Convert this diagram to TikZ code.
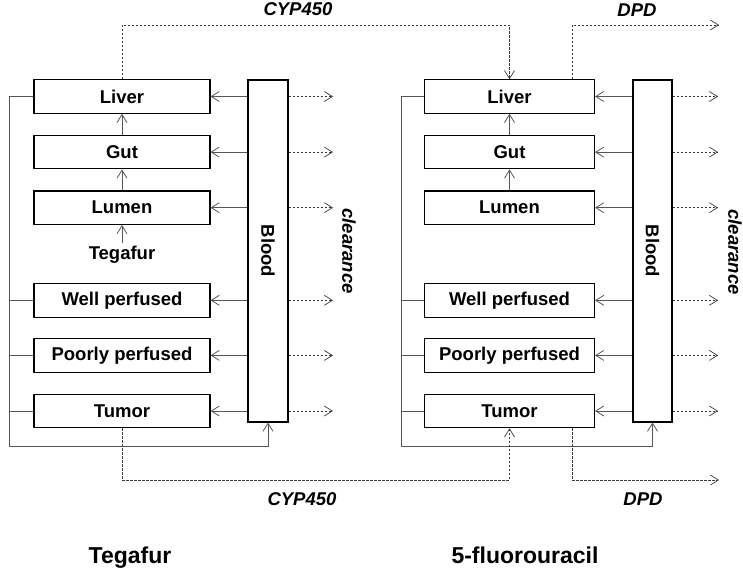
\documentclass[tikz,border=0pt]{standalone}
\usepackage{fontspec}
\usepackage{graphicx}
\setmainfont{Liberation Sans}
\usetikzlibrary{positioning,arrows.meta}
\definecolor{inkline}{HTML}{555555}
\definecolor{inkdash}{HTML}{3A3A3A}

\begin{document}
\begin{tikzpicture}[
  x=1pt, y=-1pt,
  node distance=21pt,
  organ/.style={draw, line width=1.1pt, minimum width=176pt, minimum height=33.5pt, inner sep=0pt, font=\bfseries\fontsize{18.5}{20}\selectfont},
  organF/.style={organ, minimum width=170pt},
  pool/.style={draw, line width=1.1pt, minimum width=40pt, minimum height=342pt, inner sep=0pt, font=\bfseries\fontsize{18.5}{20}\selectfont},
  note/.style={font=\bfseries\itshape\fontsize{18.5}{20}\selectfont, inner sep=0pt},
  title/.style={font=\bfseries\fontsize{23}{26}\selectfont, inner sep=0pt, anchor=base},
  flow/.style={-{Straight Barb[length=8pt,width=10pt]}, color=inkline, line width=0.8pt},
  link/.style={color=inkline, line width=0.8pt},
  metab/.style={-{Straight Barb[length=8pt,width=10pt]}, color=inkdash, line width=0.7pt, dash pattern=on 2.5pt off 1.5pt},
]
\useasboundingbox (0,0) rectangle (743,576);

% Tegafur compartments
\node[organ] (liverT) at (122,96.5) {Liver};
\node[organ, below=of liverT] (gutT) {Gut};
\node[organ, below=of gutT] (lumenT) {Lumen};
\node[organ, below=58pt of lumenT] (wellT) {Well perfused};
\node[organ, below=20.5pt of wellT] (poorT) {Poorly perfused};
\node[organ, below=of poorT] (tumorT) {Tumor};
\node[pool] (bloodT) at (268,251) {\rotatebox{-90}{Blood}};
\node[font=\bfseries\fontsize{18.5}{20}\selectfont, inner sep=2pt, anchor=base] (doseT) at (122,259) {Tegafur};
\coordinate (retT) at (9,446);
\coordinate (clrT) at (333,0);

% 5-fluorouracil compartments
\node[organF] (liverF) at (509.5,96.5) {Liver};
\node[organF, below=of liverF] (gutF) {Gut};
\node[organF, below=of gutF] (lumenF) {Lumen};
\node[organF, below=58pt of lumenF] (wellF) {Well perfused};
\node[organF, below=20.5pt of wellF] (poorF) {Poorly perfused};
\node[organF, below=of poorF] (tumorF) {Tumor};
\node[pool, minimum width=39pt] (bloodF) at (652.5,251) {\rotatebox{-90}{Blood}};
\coordinate (retF) at (401,446);
\coordinate (clrF) at (718,0);

% absorption
\draw[flow] (doseT) -- (lumenT);
\draw[flow] (lumenT) -- (gutT);
\draw[flow] (gutT) -- (liverT);
\draw[flow] (lumenF) -- (gutF);
\draw[flow] (gutF) -- (liverF);

% arterial supply
\draw[flow] (bloodT.west |- liverT) -- (liverT.east);
\draw[flow] (bloodT.west |- gutT) -- (gutT.east);
\draw[flow] (bloodT.west |- lumenT) -- (lumenT.east);
\draw[flow] (bloodT.west |- wellT) -- (wellT.east);
\draw[flow] (bloodT.west |- poorT) -- (poorT.east);
\draw[flow] (bloodT.west |- tumorT) -- (tumorT.east);
\draw[flow] (bloodF.west |- liverF) -- (liverF.east);
\draw[flow] (bloodF.west |- gutF) -- (gutF.east);
\draw[flow] (bloodF.west |- lumenF) -- (lumenF.east);
\draw[flow] (bloodF.west |- wellF) -- (wellF.east);
\draw[flow] (bloodF.west |- poorF) -- (poorF.east);
\draw[flow] (bloodF.west |- tumorF) -- (tumorF.east);

% venous return
\draw[flow] (liverT.west) -| (retT) -| (bloodT.south);
\draw[link] (wellT.west) -- (wellT.west -| retT);
\draw[link] (poorT.west) -- (poorT.west -| retT);
\draw[link] (tumorT.west) -- (tumorT.west -| retT);
\draw[flow] (liverF.west) -| (retF) -| (bloodF.south);
\draw[link] (wellF.west) -- (wellF.west -| retF);
\draw[link] (poorF.west) -- (poorF.west -| retF);
\draw[link] (tumorF.west) -- (tumorF.west -| retF);

% clearance
\draw[metab] (bloodT.east |- liverT) -- (clrT |- liverT);
\draw[metab] (bloodT.east |- gutT) -- (clrT |- gutT);
\draw[metab] (bloodT.east |- lumenT) -- (clrT |- lumenT);
\draw[metab] (bloodT.east |- wellT) -- (clrT |- wellT);
\draw[metab] (bloodT.east |- poorT) -- (clrT |- poorT);
\draw[metab] (bloodT.east |- tumorT) -- (clrT |- tumorT);
\draw[metab] (bloodF.east |- liverF) -- (clrF |- liverF);
\draw[metab] (bloodF.east |- gutF) -- (clrF |- gutF);
\draw[metab] (bloodF.east |- lumenF) -- (clrF |- lumenF);
\draw[metab] (bloodF.east |- wellF) -- (clrF |- wellF);
\draw[metab] (bloodF.east |- poorF) -- (clrF |- poorF);
\draw[metab] (bloodF.east |- tumorF) -- (clrF |- tumorF);
\node[note, rotate=-90] (clrLblT) at (349,251) {clearance};
\node[note, rotate=-90] (clrLblF) at (735,252) {clearance};

% metabolism
\coordinate (cypTop) at (liverF.north |- 0,25);
\coordinate (dpdTop) at (719,25);
\coordinate (cypBot) at (tumorF.south |- 0,480);
\coordinate (dpdBot) at (719,480);
\draw[metab] (liverT.north) |- (cypTop) -- (liverF.north);
\draw[metab] ([xshift=-23pt]liverF.north east) |- (dpdTop);
\draw[metab] (tumorT.south) |- (cypBot) -- (tumorF.south);
\draw[metab] ([xshift=-23pt]tumorF.south east) |- (dpdBot);
\node[note, anchor=base] (cypLblTop) at (298,15) {CYP450};
\node[note, anchor=base] (dpdLblTop) at (637,16) {DPD};
\node[note, anchor=base] (cypLblBot) at (302,505) {CYP450};
\node[note, anchor=base] (dpdLblBot) at (643,505) {DPD};

% drug names
\node[title] (nameT) at (130,563) {Tegafur};
\node[title] (nameF) at (525,563) {5-fluorouracil};
\end{tikzpicture}
\end{document}
